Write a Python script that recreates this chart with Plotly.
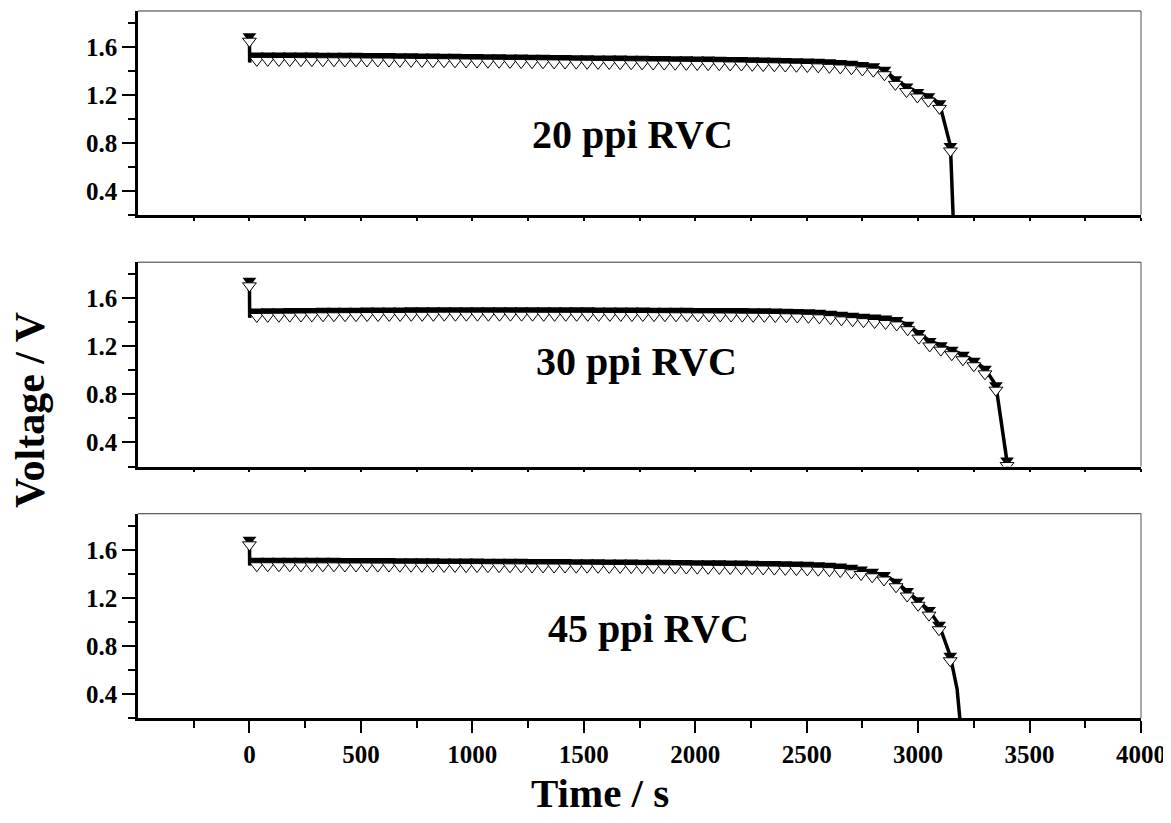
import plotly.graph_objects as go

# ---------------- data ----------------
X_RANGE = [-500, 4000]
Y_RANGE = [0.2, 1.9]
x_tickvals = [0, 500, 1000, 1500, 2000, 2500, 3000, 3500, 4000]
x_ticktext = ["0", "500", "1000", "1500", "2000", "2500", "3000", "3500", "4000"]
x_minor = [-250, 250, 750, 1250, 1750, 2250, 2750, 3250, 3750]
y_tickvals = [0.4, 0.8, 1.2, 1.6]
y_ticktext = ["0.4", "0.8", "1.2", "1.6"]
y_minor = [0.2, 0.6, 1.0, 1.4, 1.8]

labels = ["20 ppi RVC", "30 ppi RVC", "45 ppi RVC"]

# 20 ppi RVC
t20 = [0, 33, 82, 132, 181, 231, 280, 329, 379, 428, 478, 527, 576, 626, 675, 725, 774,
       823, 873, 922, 972, 1021, 1070, 1120, 1169, 1219, 1268, 1317, 1367, 1416, 1466,
       1515, 1564, 1614, 1663, 1713, 1762, 1811, 1861, 1910, 1960, 2009, 2058, 2108,
       2157, 2207, 2256, 2305, 2355, 2404, 2454, 2503, 2552, 2602, 2651, 2701, 2750,
       2799, 2849, 2898, 2948, 2997, 3046, 3096, 3145]
v20 = [1.69, 1.530, 1.530, 1.529, 1.529, 1.528, 1.528, 1.527, 1.527, 1.526, 1.526, 1.525,
       1.525, 1.524, 1.523, 1.522, 1.521, 1.520, 1.519, 1.518, 1.517, 1.516, 1.515, 1.514,
       1.513, 1.512, 1.511, 1.510, 1.509, 1.508, 1.507, 1.506, 1.505, 1.504, 1.503, 1.502,
       1.501, 1.500, 1.499, 1.498, 1.497, 1.496, 1.495, 1.494, 1.492, 1.491, 1.489, 1.487,
       1.485, 1.483, 1.481, 1.479, 1.476, 1.472, 1.467, 1.460, 1.450, 1.440, 1.410, 1.330,
       1.270, 1.225, 1.190, 1.130, 0.775]
start20_t = [1, 5]
start20_v = [1.47, 1.53]
tail20_t = [3157, 3159]
tail20_v = [0.2, 0.1]

# 30 ppi RVC
t30 = [0, 33, 82, 132, 181, 231, 280, 330, 379, 429, 478, 528, 577, 627, 676, 726, 775,
       825, 874, 924, 973, 1023, 1072, 1122, 1171, 1221, 1270, 1320, 1369, 1419, 1468,
       1518, 1567, 1617, 1666, 1716, 1765, 1815, 1864, 1914, 1963, 2013, 2062, 2112,
       2161, 2211, 2260, 2310, 2359, 2409, 2458, 2508, 2557, 2607, 2656, 2706, 2755,
       2805, 2854, 2904, 2953, 3003, 3052, 3102, 3151, 3201, 3250, 3300, 3349, 3399]
v30 = [1.745, 1.490, 1.491, 1.492, 1.493, 1.494, 1.495, 1.496, 1.496, 1.497, 1.497, 1.498,
       1.498, 1.499, 1.499, 1.500, 1.500, 1.500, 1.501, 1.501, 1.501, 1.501, 1.501, 1.501,
       1.501, 1.501, 1.501, 1.500, 1.500, 1.500, 1.500, 1.500, 1.499, 1.499, 1.499, 1.498,
       1.498, 1.497, 1.497, 1.496, 1.496, 1.495, 1.495, 1.494, 1.494, 1.493, 1.492, 1.491,
       1.490, 1.488, 1.486, 1.483, 1.479, 1.472, 1.462, 1.455, 1.447, 1.440, 1.432, 1.420,
       1.380, 1.310, 1.245, 1.210, 1.172, 1.130, 1.080, 1.013, 0.877, 0.250]
start30_t = [1, 5]
start30_v = [1.437, 1.49]
tail30_t = [3402, 3404]
tail30_v = [0.2, 0.1]

# 45 ppi RVC
t45 = [0, 33, 82, 132, 181, 231, 280, 329, 379, 428, 478, 527, 576, 626, 675, 725, 774,
       823, 873, 922, 972, 1021, 1070, 1120, 1169, 1219, 1268, 1317, 1367, 1416, 1466,
       1515, 1564, 1614, 1663, 1713, 1762, 1811, 1861, 1910, 1960, 2009, 2058, 2108,
       2157, 2207, 2256, 2305, 2355, 2404, 2454, 2503, 2552, 2602, 2651, 2701, 2744,
       2794, 2847, 2901, 2951, 3000, 3049, 3094, 3144]
v45 = [1.683, 1.509, 1.509, 1.509, 1.509, 1.508, 1.508, 1.508, 1.508, 1.507, 1.507, 1.507,
       1.506, 1.506, 1.505, 1.505, 1.504, 1.504, 1.503, 1.503, 1.502, 1.502, 1.501, 1.501,
       1.500, 1.500, 1.499, 1.499, 1.498, 1.498, 1.497, 1.497, 1.496, 1.495, 1.495, 1.494,
       1.493, 1.493, 1.492, 1.491, 1.490, 1.489, 1.488, 1.487, 1.486, 1.485, 1.484, 1.482,
       1.481, 1.479, 1.477, 1.475, 1.472, 1.468, 1.461, 1.450, 1.436, 1.417, 1.390, 1.334,
       1.257, 1.180, 1.098, 0.976, 0.718]
start45_t = [1, 5]
start45_v = [1.47, 1.509]
tail45_t = [3175, 3190, 3192]
tail45_v = [0.44, 0.2, 0.1]

series = [
    (t20, v20, start20_t, start20_v, tail20_t, tail20_v),
    (t30, v30, start30_t, start30_v, tail30_t, tail30_v),
    (t45, v45, start45_t, start45_v, tail45_t, tail45_v),
]

# ---------------- layout geometry ----------------
PAGE_PAD = 8                      # default body margin of the page
W, H = 1171 - PAGE_PAD, 823 - 2 * PAGE_PAD
ML, MR, MT, MB = 130, 30, 3, 97
PW, PH = W - ML - MR, H - MT - MB
domains = [[0.7116, 1.0], [0.3557, 0.6447], [0.0, 0.2889]]
panel_px = PH * (domains[0][1] - domains[0][0])
dv = 5.0 * (Y_RANGE[1] - Y_RANGE[0]) / panel_px   # white marker sits ~5 px lower


def px_to_paper(ax, ay):
    return (ax - PAGE_PAD - ML) / PW, (H - MB - (ay - PAGE_PAD)) / PH


FONT = "Liberation Serif"
tickfont = dict(family=FONT, size=25, color="black", weight="bold")

fig = go.Figure()
for i, (t, v, st, sv, tt, tv) in enumerate(series):
    xa = "x" if i == 0 else f"x{i+1}"
    ya = "y" if i == 0 else f"y{i+1}"
    lt = [t[0]] + st + t[1:] + tt
    lv = [v[0]] + sv + v[1:] + tv
    fig.add_trace(go.Scatter(x=lt, y=lv, mode="lines", xaxis=xa, yaxis=ya,
                             line=dict(color="black", width=3.5), showlegend=False,
                             hoverinfo="skip"))
    fig.add_trace(go.Scatter(x=t, y=v, mode="markers", xaxis=xa, yaxis=ya,
                             marker=dict(symbol="triangle-down", size=12, color="black",
                                         line=dict(width=0)),
                             showlegend=False, hoverinfo="skip"))
    fig.add_trace(go.Scatter(x=t, y=[val - dv for val in v], mode="markers", xaxis=xa, yaxis=ya,
                             marker=dict(symbol="triangle-down", size=12, color="white",
                                         line=dict(width=1, color="black")),
                             showlegend=False, hoverinfo="skip"))

layout = dict(
    width=W, height=H,
    margin=dict(l=ML, r=MR, t=MT, b=MB),
    plot_bgcolor="white", paper_bgcolor="white",
    showlegend=False,
)
for i in range(3):
    xk = "xaxis" if i == 0 else f"xaxis{i+1}"
    yk = "yaxis" if i == 0 else f"yaxis{i+1}"
    ya = "y" if i == 0 else f"y{i+1}"
    xa = "x" if i == 0 else f"x{i+1}"
    bottom = (i == 2)
    layout[xk] = dict(
        range=X_RANGE, domain=[0, 1], anchor=ya,
        showline=True, linecolor="black", linewidth=2.5,
        showgrid=False, zeroline=False,
        tickmode="array", tickvals=x_tickvals, ticktext=x_ticktext,
        showticklabels=bottom, ticklabeloverflow="allow",
        ticks="outside", ticklen=12 if bottom else 3, tickwidth=2, tickcolor="black",
        minor=dict(tickmode="array", tickvals=x_minor, ticks="outside",
                   ticklen=7 if bottom else 3, tickwidth=2, tickcolor="black"),
        tickfont=tickfont,
    )
    layout[yk] = dict(
        range=Y_RANGE, domain=domains[i], anchor=xa,
        showline=True, linecolor="black", linewidth=2.5,
        showgrid=False, zeroline=False,
        tickmode="array", tickvals=y_tickvals, ticktext=y_ticktext,
        ticks="outside", ticklen=13, tickwidth=2, tickcolor="black",
        minor=dict(tickmode="array", tickvals=y_minor, ticks="outside",
                   ticklen=7, tickwidth=2, tickcolor="black"),
        tickfont=tickfont,
    )
fig.update_layout(**layout)

# thin top/right frame
for i in range(3):
    xa = "x" if i == 0 else f"x{i+1}"
    ya = "y" if i == 0 else f"y{i+1}"
    fig.add_shape(type="line", xref=f"{xa} domain", yref=f"{ya} domain",
                  x0=0, x1=1, y0=1, y1=1, line=dict(color="#333333", width=1))
    fig.add_shape(type="line", xref=f"{xa} domain", yref=f"{ya} domain",
                  x0=1, x1=1, y0=0, y1=1, line=dict(color="#555555", width=1))

# panel labels (absolute pixel centres)
label_px = [(632, 134), (636, 361), (648, 628)]
for lab, (ax, ay) in zip(labels, label_px):
    px, py = px_to_paper(ax, ay)
    fig.add_annotation(text=lab, xref="paper", yref="paper",
                       x=px, y=py, showarrow=False, xanchor="center", yanchor="middle",
                       font=dict(family=FONT, size=40, color="black", weight="bold"))

# axis titles
vx, vy = px_to_paper(30, 410)
fig.add_annotation(text="Voltage / V", xref="paper", yref="paper", x=vx, y=vy,
                   textangle=-90, showarrow=False, xanchor="center", yanchor="middle",
                   font=dict(family=FONT, size=42, color="black", weight="bold"))
tx, ty = px_to_paper(600, 793)
fig.add_annotation(text="Time / s", xref="paper", yref="paper", x=tx, y=ty,
                   showarrow=False, xanchor="center", yanchor="middle",
                   font=dict(family=FONT, size=41, color="black", weight="bold"))

fig.write_html("out.html")
